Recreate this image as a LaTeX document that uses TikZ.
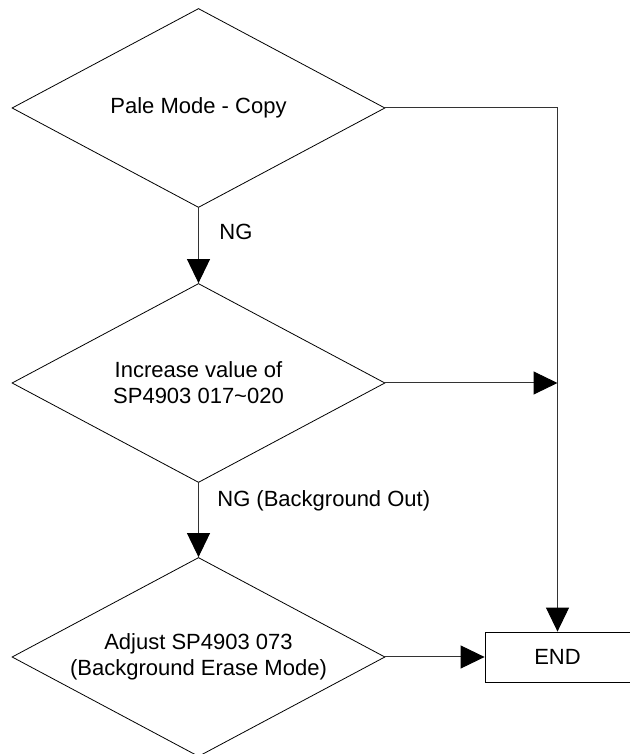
\documentclass[tikz,border=0pt]{standalone}
\usepackage{fontspec}
\setmainfont{Liberation Sans}
\usetikzlibrary{arrows.meta,shapes.geometric}

\begin{document}
\begin{tikzpicture}[
  x=0.5pt, y=0.5pt,
  d/.style={draw, diamond, aspect=1.865, inner sep=0pt, minimum width=186.5pt, minimum height=99.5pt, align=center, font=\fontsize{11}{13}\selectfont, line width=0.4pt},
  t/.style={draw, rectangle, minimum width=72.5pt, minimum height=25pt, inner sep=0pt, font=\fontsize{11}{13}\selectfont, line width=0.4pt},
  l/.style={anchor=west, inner sep=0pt, font=\fontsize{11}{13}\selectfont},
  a/.style={-{Triangle[length=12pt,width=11.5pt,color=black]}, draw=black!80, line width=0.5pt}
]
\useasboundingbox (0,0) rectangle (630,754);
\node[d] (pale) at (198.5,646) {Pale Mode - Copy};
\node[d] (incr) at (198.5,371) {Increase value of\\SP4903 017\textasciitilde020};
\node[d] (adj) at (198.5,97) {Adjust SP4903 073\\(Background Erase Mode)};
\node[t] (end) at (557.5,97) {END};
\coordinate (c1) at (557.5,646);
\node[l] (ng1) at (219,522) {NG};
\node[l] (ng2) at (217,253) {NG (Background Out)};
\draw[a] (pale.south) -- (incr.north);
\draw[a] (incr.south) -- (adj.north);
\draw[a] (pale.east) -- (c1) -- (end.north);
\draw[a] (incr.east) -- (incr.east -| c1);
\draw[a] (adj.east) -- (end.west);
\end{tikzpicture}
\end{document}
